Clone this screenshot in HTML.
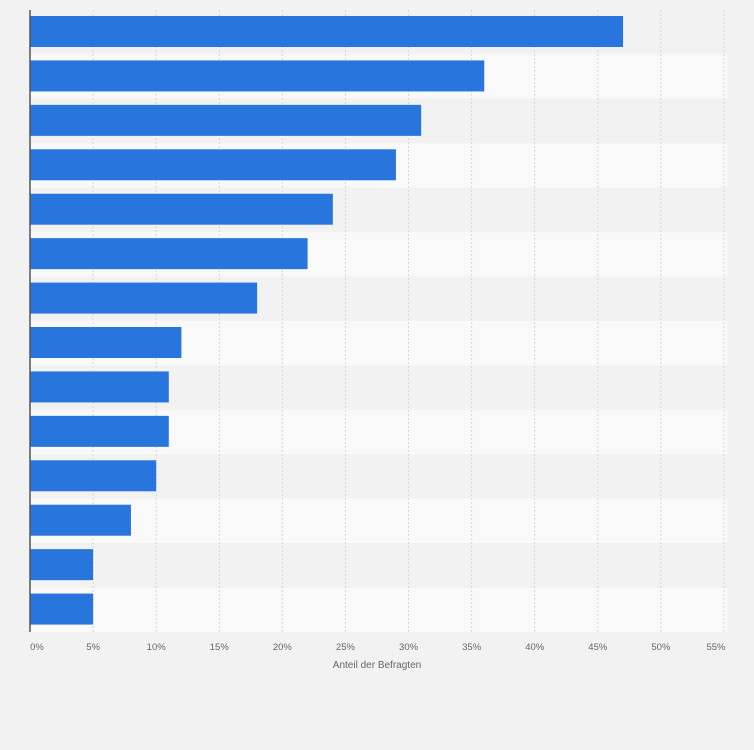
<!DOCTYPE html>
<html><head><meta charset="utf-8"><style>
body{margin:0;background:#f2f2f2;font-family:"Liberation Sans",sans-serif;}
</style></head><body>
<svg id="chart" width="754" height="750" xmlns="http://www.w3.org/2000/svg" style="display:block">
<rect width="754" height="750" fill="#f2f2f2"/>
<g id="rows"></g><g id="grid"></g><g id="bars"></g><g id="ticks"></g>
<line x1="30" y1="10" x2="30" y2="632" stroke="#555" stroke-width="1.5"/>
<text x="377" y="668" font-size="10" fill="#666" text-anchor="middle">Anteil der Befragten</text>
</svg>
<script>
const values=[47,36,31,29,24,22,18,12,11,11,10,8,5,5];
const tickValues=[0,5,10,15,20,25,30,35,40,45,50,55];
const tickLabels=["0%","5%","10%","15%","20%","25%","30%","35%","40%","45%","50%","55%"];
const NS="http://www.w3.org/2000/svg";
const x0=30,x1=724,plotTop=10,plotBottom=632,maxV=55;
const rowH=(plotBottom-plotTop)/values.length;
function xs(v){return x0+(x1-x0)*v/maxV;}
function mk(t,a,p){const e=document.createElementNS(NS,t);for(const k in a)e.setAttribute(k,a[k]);p.appendChild(e);return e;}
const rows=document.getElementById('rows'),grid=document.getElementById('grid'),bars=document.getElementById('bars'),ticks=document.getElementById('ticks');
values.forEach((v,i)=>{
  const y=plotTop+i*rowH;
  const r=mk('rect',{x:x0,y:y,width:x1+3-x0,height:rowH,fill:i%2?'#f9f9f9':'#f2f2f2'},rows);
  
  
  const b=mk('rect',{x:x0,y:y+6,width:xs(v)-x0,height:31,fill:'#2876dd'},bars);
  
  
});
tickValues.forEach((t,i)=>{
  const x=xs(t);
  if(t>0){
    const g=mk('line',{x1:x,x2:x,y1:plotTop,y2:plotBottom,stroke:'#d6d6d6','stroke-dasharray':'2,2'},grid);
    
    
  }
  const l=mk('text',{x:x+(i===0?7:(i===11?-8:0)),y:650,'font-size':'9.5',fill:'#666','text-anchor':'middle'},ticks);
  l.textContent=tickLabels[i];
  
  
});
</script>
</body></html>
